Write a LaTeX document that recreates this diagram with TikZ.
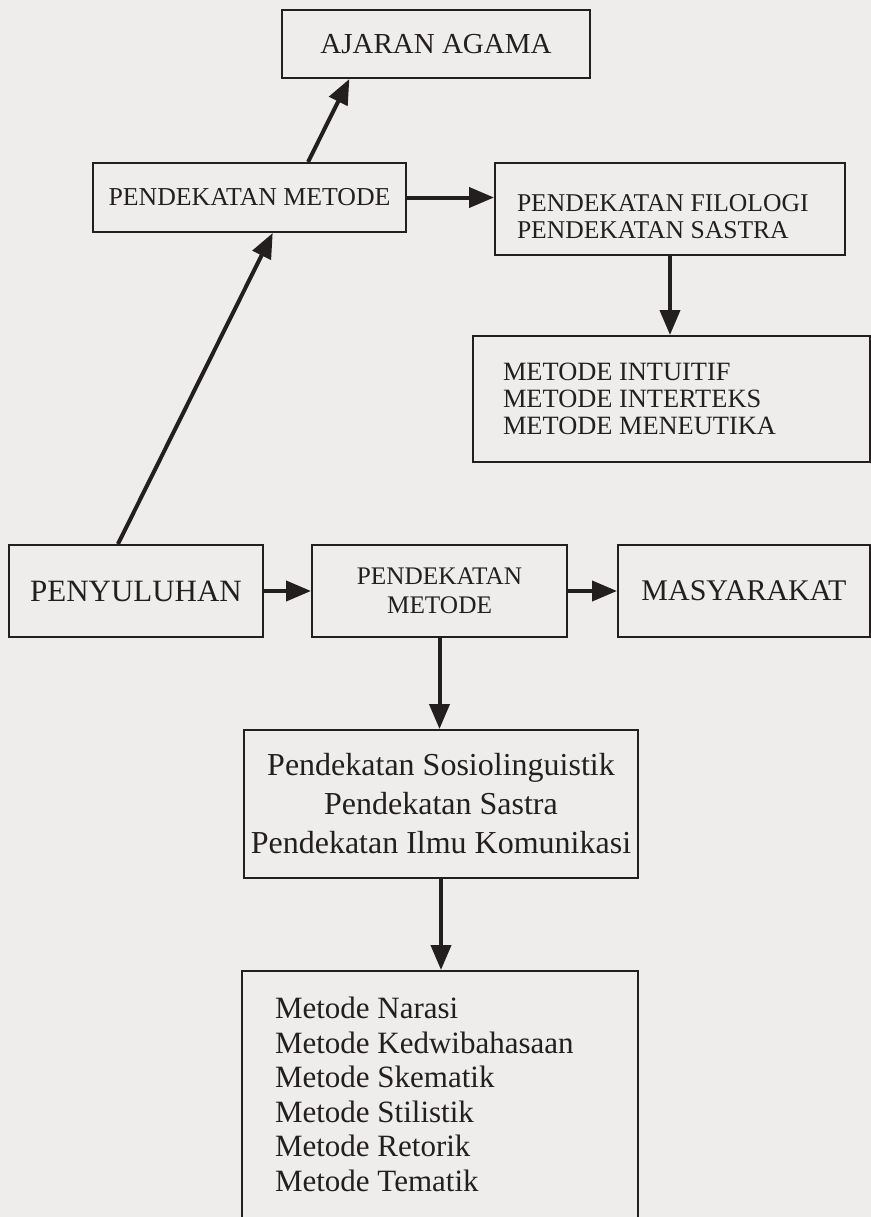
\documentclass[tikz,border=0pt]{standalone}
\usepackage{fontspec}
\setmainfont{Liberation Serif}
\usepackage{xcolor}
\definecolor{ink}{RGB}{34,31,30}
\definecolor{paper}{RGB}{238,237,235}
\usepackage{tikz}
\usetikzlibrary{arrows.meta,calc}

\newcommand{\fs}[2]{\fontsize{#1}{#2}\selectfont}

\begin{document}
\begin{tikzpicture}[x=0.5pt,y=-0.5pt,
      box/.style={rectangle,draw=ink,line width=1pt,text=ink,inner sep=0pt},
      leftbox/.style={box,align=flush left},
      midbox/.style={box,align=flush center},
      link/.style={draw=ink,line width=2pt,-{Triangle[length=12.5pt,width=10pt]}}]
    % page of the scan
    \fill[paper] (0,0) rectangle (871,1217);
    \useasboundingbox (0,0) rectangle (871,1217);
    % upper branch
    \node[box,minimum width=154pt,minimum height=34pt,font=\fs{14.5pt}{16pt}] (ajaran) at (436,44) {AJARAN AGAMA};
    \node[box,minimum width=156.5pt,minimum height=34.5pt,font=\fs{12.9pt}{14pt}] (metTop) at (249.5,197.5) {PENDEKATAN METODE};
    \node[leftbox,minimum width=175pt,minimum height=46pt,inner xsep=11pt,text width=153pt,
          text height=15.5pt,text depth=13.5pt,font=\fs{12.8pt}{13.5pt}] (filologi) at (670,209)
      {PENDEKATAN FILOLOGI\\PENDEKATAN SASTRA};
    \node[leftbox,minimum width=198.5pt,minimum height=63pt,inner xsep=15pt,text width=168.5pt,
          font=\fs{13.2pt}{13.5pt}] (intuitif) at (671.5,399)
      {METODE INTUITIF\\METODE INTERTEKS\\METODE MENEUTIKA};
    % middle row
    \node[box,minimum width=127pt,minimum height=46pt,font=\fs{15.5pt}{17pt}] (penyuluhan) at (136,591) {PENYULUHAN};
    \node[midbox,minimum width=127.5pt,minimum height=46pt,font=\fs{12.65pt}{14.5pt}] (metMid) at (439.5,591)
      {PENDEKATAN\\METODE};
    \node[box,minimum width=126pt,minimum height=46pt,font=\fs{15pt}{17pt}] (masyarakat) at (744,591) {MASYARAKAT};
    % lower branch
    \node[midbox,minimum width=197pt,minimum height=74pt,font=\fs{16pt}{19.5pt}] (sosio) at (441,804)
      {Pendekatan Sosiolinguistik\\Pendekatan Sastra\\Pendekatan Ilmu Komunikasi};
    \node[leftbox,anchor=north,minimum width=198pt,inner xsep=16.5pt,inner ysep=13pt,text width=165pt,
          text depth=100pt,font=\fs{15.5pt}{17.3pt}] (metList) at (440,970)
      {Metode Narasi\\Metode Kedwibahasaan\\Metode Skematik\\Metode Stilistik\\Metode Retorik\\Metode Tematik};
    % connectors
    \coordinate (lo) at (penyuluhan.111);
    \coordinate (hi) at (ajaran.-158);
    \draw[link] (lo) -- (intersection of lo--hi and metTop.south west--metTop.south east);
    \draw[link] (intersection of lo--hi and metTop.north west--metTop.north east) -- (hi);
    \draw[link] (metTop.east) -- (metTop.east -| filologi.west);
    \draw[link] (filologi.south) -- (filologi.south |- intuitif.north);
    \draw[link] (penyuluhan.east) -- (metMid.west);
    \draw[link] (metMid.east) -- (masyarakat.west);
    \draw[link] (metMid.south) -- (metMid.south |- sosio.north);
    \draw[link] (sosio.south) -- (sosio.south |- metList.north);
\end{tikzpicture}
\end{document}
